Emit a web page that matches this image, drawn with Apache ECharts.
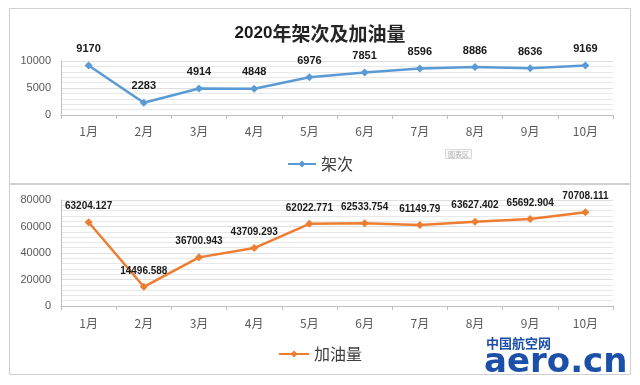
<!DOCTYPE html>
<html>
<head>
<meta charset="utf-8">
<script src="https://cdn.jsdelivr.net/npm/echarts@6/dist/echarts.min.js"></script>
<style>
html,body{margin:0;padding:0;background:#fff;}
#c{width:640px;height:385px;}
</style>
</head>
<body>
<div id="c"></div>
<script>
var months = ['1月','2月','3月','4月','5月','6月','7月','8月','9月','10月'];
var flights = [9170, 2283, 4914, 4848, 6976, 7851, 8596, 8886, 8636, 9169];
var fuel = [63204.127, 14496.588, 36700.943, 43709.293, 62022.771, 62533.754, 61149.79, 63627.402, 65692.904, 70708.111];
var fuelLabels = ['63204.127','14496.588','36700.943','43709.293','62022.771','62533.754','61149.79','63627.402','65692.904','70708.111'];
var titleText = ['2020', '年架次及加油量'];
var flightName = '架次';
var fuelName = '加油量';

var chart = echarts.init(document.getElementById('c'), null, {renderer: 'canvas'});
var gridColor = '#dedede';
var axisLabelColor = '#595959';

function xAxisCfg(idx) {
  return {
    type: 'category', gridIndex: idx, data: months, boundaryGap: true,
    axisLine: {show: true, lineStyle: {color: '#bfbfbf', width: 1}},
    axisTick: {show: true, length: 4, lineStyle: {color: '#bfbfbf'}},
    axisLabel: {color: axisLabelColor, fontSize: 12, margin: idx === 0 ? 10 : 11, fontFamily: 'Noto Sans CJK SC'},
    splitLine: {show: false}
  };
}
function yAxisCfg(idx, max, interval) {
  return {
    type: 'value', gridIndex: idx, min: 0, max: max, interval: interval,
    axisLine: {show: true, lineStyle: {color: '#bfbfbf'}},
    axisTick: {show: false},
    axisLabel: {color: axisLabelColor, fontSize: 11, margin: 10, fontFamily: 'Liberation Sans',
      formatter: function (v) { return String(v); }},
    splitLine: {show: true, lineStyle: {color: gridColor, width: 1}},
    minorTick: {show: false, splitNumber: 5},
    minorSplitLine: {show: true, lineStyle: {color: '#e8e8e8', width: 1}}
  };
}

chart.setOption({
  animation: false,
  backgroundColor: '#ffffff',
  title: {
    text: '{a|' + titleText[0] + '}{b|' + titleText[1] + '}',
    left: 'center', top: 19,
    textStyle: {
      rich: {
        a: {fontSize: 17, fontWeight: 'bold', color: '#1a1a1a', fontFamily: 'Liberation Sans'},
        b: {fontSize: 19, fontWeight: 'bold', color: '#262626', fontFamily: 'Noto Sans CJK SC'}
      }
    }
  },
  legend: [
    {
      data: [flightName], top: 151, left: 'center', itemWidth: 28, itemHeight: 9, itemGap: 4,
      textStyle: {fontSize: 16, color: '#404040', fontFamily: 'Noto Sans CJK SC'}
    },
    {
      data: [fuelName], top: 341, left: 'center', itemWidth: 30, itemHeight: 9, itemGap: 4,
      textStyle: {fontSize: 16, color: '#404040', fontFamily: 'Noto Sans CJK SC'}
    }
  ],
  grid: [
    {left: 61, right: 27, top: 61, height: 54},
    {left: 61, right: 27, top: 200, height: 106}
  ],
  xAxis: [xAxisCfg(0), xAxisCfg(1)],
  yAxis: [yAxisCfg(0, 10000, 5000), yAxisCfg(1, 80000, 20000)],
  series: [
    {
      name: flightName, type: 'line', xAxisIndex: 0, yAxisIndex: 0, data: flights,
      symbol: 'diamond', symbolSize: 8,
      lineStyle: {color: '#5b9bd5', width: 2.5},
      itemStyle: {color: '#5b9bd5'},
      label: {show: true, position: 'top', distance: 7, fontSize: 11, fontWeight: 'bold', color: '#1a1a1a', fontFamily: 'Liberation Sans'}
    },
    {
      name: fuelName, type: 'line', xAxisIndex: 1, yAxisIndex: 1, data: fuel,
      symbol: 'diamond', symbolSize: 8,
      lineStyle: {color: '#ed7d31', width: 2.5},
      itemStyle: {color: '#ed7d31'},
      label: {show: true, position: 'top', distance: 7, fontSize: 10, fontWeight: 'bold', color: '#1a1a1a', fontFamily: 'Liberation Sans',
        formatter: function (p) { return fuelLabels[p.dataIndex]; }}
    }
  ],
  graphic: [
    {type: 'rect', shape: {x: 9.5, y: 8.5, width: 621, height: 175}, style: {fill: null, stroke: '#d0d0d0', lineWidth: 1}, silent: true, z: -1},
    {type: 'rect', shape: {x: 9.5, y: 184.5, width: 621, height: 190}, style: {fill: null, stroke: '#d0d0d0', lineWidth: 1}, silent: true, z: -1},
    {type: 'rect', shape: {x: 445.5, y: 149.5, width: 26, height: 9}, style: {fill: '#fafafa', stroke: '#d8d8d8', lineWidth: 1}, silent: true},
    {type: 'text', x: 458.5, y: 154, style: {text: '图表区', fontSize: 7, fill: '#b0b0b0', align: 'center', verticalAlign: 'middle', fontFamily: 'Noto Sans CJK SC'}, silent: true},
    {type: 'text', x: 486, y: 337, style: {text: '中国航空网', fontSize: 13, fontWeight: 'bold', fill: '#1c4fa8', fontFamily: 'Noto Sans CJK SC', letterSpacing: 3}, silent: true},
    {type: 'text', x: 484, y: 346, style: {text: 'aero.cn', fontSize: 34, fontWeight: 'bold', fill: '#1c4fa8', fontFamily: 'DejaVu Sans'}, silent: true}
  ]
});
</script>
</body>
</html>
